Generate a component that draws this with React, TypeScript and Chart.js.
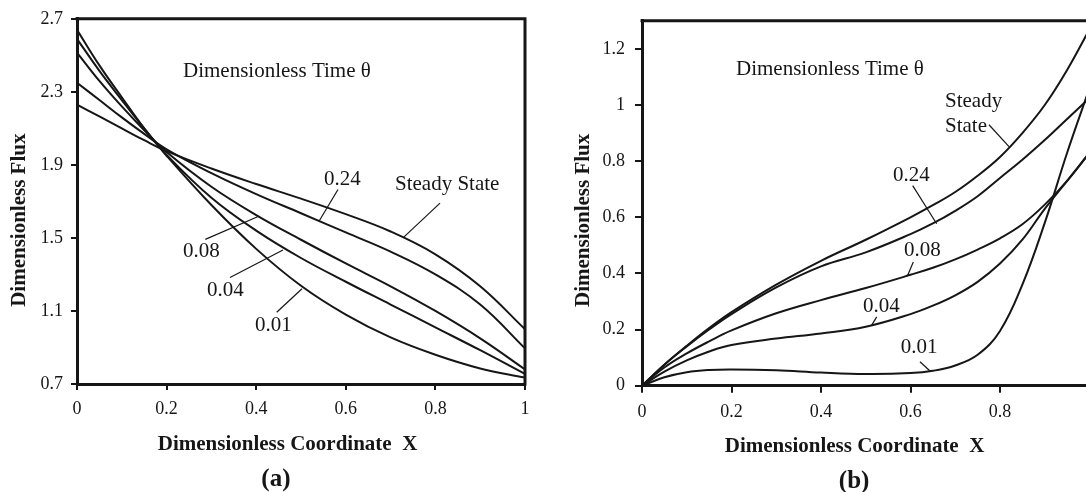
import React, { useEffect, useRef } from "react";
import { Chart, registerables } from "chart.js";

Chart.register(...registerables);

const INK = "#161616";
const SERIF = '"Liberation Serif", "Times New Roman", serif';

// ---------------- Chart (a) data ----------------
const xA = [0, 0.05, 0.1, 0.15, 0.2, 0.3, 0.4, 0.5, 0.6, 0.7, 0.8, 0.9, 1];
const fluxA_001 = [2.64, 2.445, 2.27, 2.1, 1.95, 1.68, 1.44, 1.238, 1.08, 0.955, 0.86, 0.785, 0.735];
const fluxA_004 = [2.59, 2.415, 2.255, 2.1, 1.955, 1.72, 1.54, 1.39, 1.26, 1.135, 1.01, 0.885, 0.755];
const fluxA_008 = [2.515, 2.36, 2.22, 2.09, 1.97, 1.78, 1.625, 1.49, 1.36, 1.235, 1.1, 0.95, 0.78];
const fluxA_024 = [2.35, 2.255, 2.16, 2.07, 1.985, 1.855, 1.74, 1.635, 1.53, 1.425, 1.3, 1.135, 0.895];
const fluxA_ss = [2.23, 2.165, 2.1, 2.035, 1.975, 1.88, 1.795, 1.715, 1.63, 1.535, 1.41, 1.235, 1.0];
const xTicksA = [0, 0.2, 0.4, 0.6, 0.8, 1];
const yTicksA = [0.7, 1.1, 1.5, 1.9, 2.3, 2.7];

// ---------------- Chart (b) data ----------------
const xB = [0, 0.05, 0.1, 0.15, 0.2, 0.3, 0.4, 0.5, 0.6, 0.65, 0.7, 0.75, 0.8, 0.85, 0.9, 0.95, 1];
const fluxB_001 = [0, 0.03, 0.048, 0.056, 0.058, 0.055, 0.047, 0.042, 0.045, 0.053, 0.072, 0.11, 0.195, 0.36, 0.58, 0.83, 1.06];
const fluxB_004 = [0, 0.05, 0.09, 0.122, 0.145, 0.168, 0.186, 0.21, 0.255, 0.285, 0.322, 0.37, 0.435, 0.52, 0.63, 0.73, 0.83];
const fluxB_008 = [0, 0.065, 0.115, 0.158, 0.197, 0.258, 0.305, 0.348, 0.395, 0.42, 0.45, 0.485, 0.525, 0.575, 0.645, 0.73, 0.83];
const fluxB_024 = [0, 0.075, 0.14, 0.2, 0.255, 0.35, 0.425, 0.475, 0.54, 0.578, 0.623, 0.675, 0.74, 0.805, 0.875, 0.95, 1.025];
const fluxB_ss = [0, 0.075, 0.142, 0.205, 0.262, 0.36, 0.445, 0.52, 0.6, 0.643, 0.69, 0.748, 0.815, 0.9, 1.0, 1.125, 1.27];
const xTicksB = [0, 0.2, 0.4, 0.6, 0.8, 1];
const yTicksB = [0, 0.2, 0.4, 0.6, 0.8, 1, 1.2];

const seriesNames = ["0.01", "0.04", "0.08", "0.24", "Steady State"];

// ---------------- annotations (data units) ----------------
const labelsA = [
  { text: "Dimensionless Time θ", x: 0.2366, y: 2.379 },
  { text: "0.24", x: 0.5513, y: 1.7924 },
  { text: "Steady State", x: 0.7098, y: 1.7598 },
  { text: "0.08", x: 0.2366, y: 1.3957 },
  { text: "0.04", x: 0.2902, y: 1.1837 },
  { text: "0.01", x: 0.3973, y: 0.988 },
];
const leadersA = [
  [0.5826, 1.7652, 0.5402, 1.5913],
  [0.8103, 1.6908, 0.7277, 1.5005],
  [0.2864, 1.4918, 0.4056, 1.6185],
  [0.3415, 1.2832, 0.4598, 1.4337],
  [0.4458, 1.0929, 0.5022, 1.2217],
];
const labelsB = [
  { text: "Dimensionless Time θ", x: 0.2101, y: 1.1073 },
  { text: "Steady", x: 0.6771, y: 0.9936 },
  { text: "State", x: 0.6771, y: 0.903 },
  { text: "0.24", x: 0.5609, y: 0.7307 },
  { text: "0.08", x: 0.5855, y: 0.4607 },
  { text: "0.04", x: 0.4939, y: 0.2636 },
  { text: "0.01", x: 0.5781, y: 0.1162 },
];
const leadersB = [
  [0.7754, 0.9297, 0.8201, 0.8515],
  [0.6049, 0.713, 0.6585, 0.5769],
  [0.6063, 0.4405, 0.5928, 0.3897],
  [0.5245, 0.2451, 0.5133, 0.2156],
  [0.6212, 0.0853, 0.6436, 0.0522],
];

const fmt = (v: number) => String(Math.round(v * 10) / 10);

type Spec = {
  xs: number[];
  series: number[][];
  xTicks: number[];
  yTicks: number[];
  xMin: number;
  xMax: number;
  yMin: number;
  yMax: number;
  labels: { text: string; x: number; y: number }[];
  leaders: number[][];
  panel: string;
  panelX: number;
  xTitleX: number;
  yTitleOffset: number;
  yTitleY: number;
  yAxisWidth: number;
  xAxisHeight: number;
  padding: { left: number; right: number; top: number; bottom: number };
  tickLen: number;
  yPad: number;
  xPad: number;
};

function overlayPlugin(spec: Spec) {
  return {
    id: "overlay",
    afterDraw(chart: any) {
      const { ctx, chartArea: ca } = chart;
      const sx = chart.scales.x;
      const sy = chart.scales.y;
      ctx.save();
      // top and right frame
      ctx.strokeStyle = INK;
      ctx.lineWidth = 3;
      ctx.beginPath();
      ctx.moveTo(ca.left - 1.5, ca.top);
      ctx.lineTo(ca.right, ca.top);
      ctx.lineTo(ca.right, ca.bottom + 1.5);
      ctx.stroke();
      // leader lines
      ctx.lineWidth = 1.2;
      for (const [x1, y1, x2, y2] of spec.leaders) {
        ctx.beginPath();
        ctx.moveTo(sx.getPixelForValue(x1), sy.getPixelForValue(y1));
        ctx.lineTo(sx.getPixelForValue(x2), sy.getPixelForValue(y2));
        ctx.stroke();
      }
      // in-plot labels
      ctx.fillStyle = INK;
      ctx.font = `21px ${SERIF}`;
      ctx.textAlign = "left";
      ctx.textBaseline = "alphabetic";
      for (const l of spec.labels) {
        ctx.fillText(l.text, sx.getPixelForValue(l.x), sy.getPixelForValue(l.y));
      }
      // x axis title
      ctx.font = `bold 21px ${SERIF}`;
      ctx.textAlign = "center";
      ctx.fillText("Dimensionless Coordinate  X", sx.getPixelForValue(spec.xTitleX), ca.bottom + 66);
      // panel label
      ctx.font = `bold 25px ${SERIF}`;
      ctx.fillText(spec.panel, sx.getPixelForValue(spec.panelX), ca.bottom + 102);
      // y axis title
      ctx.translate(ca.left - spec.yTitleOffset, sy.getPixelForValue(spec.yTitleY));
      ctx.rotate(-Math.PI / 2);
      ctx.font = `bold 21px ${SERIF}`;
      ctx.textAlign = "center";
      ctx.textBaseline = "middle";
      ctx.fillText("Dimensionless Flux", 0, 0);
      ctx.restore();
    },
  };
}

function makeConfig(spec: Spec): any {
  const tickFont = { family: SERIF, size: 18 };
  return {
    type: "line",
    data: {
      datasets: spec.series.map((vals, k) => ({
        label: seriesNames[k],
        data: spec.xs.map((x, i) => ({ x, y: vals[i] })),
        borderColor: INK,
        borderWidth: 2,
        pointRadius: 0,
        fill: false,
        tension: 0.4,
      })),
    },
    options: {
      animation: false,
      responsive: false,
      maintainAspectRatio: false,
      layout: { padding: spec.padding },
      plugins: { legend: { display: false }, tooltip: { enabled: false } },
      scales: {
        x: {
          type: "linear",
          min: spec.xMin,
          max: spec.xMax,
          afterBuildTicks: (s: any) => {
            s.ticks = spec.xTicks.map((v) => ({ value: v }));
          },
          afterFit: (s: any) => {
            s.height = spec.xAxisHeight;
          },
          grid: {
            display: true,
            drawOnChartArea: false,
            drawTicks: true,
            tickLength: spec.tickLen,
            color: INK,
            lineWidth: 2,
          },
          border: { display: true, color: INK, width: 3 },
          ticks: {
            font: tickFont,
            color: INK,
            padding: spec.xPad,
            maxRotation: 0,
            autoSkip: false,
            callback: (v: number) => fmt(v),
          },
        },
        y: {
          type: "linear",
          min: spec.yMin,
          max: spec.yMax,
          afterBuildTicks: (s: any) => {
            s.ticks = spec.yTicks.map((v) => ({ value: v }));
          },
          afterFit: (s: any) => {
            s.width = spec.yAxisWidth;
          },
          grid: {
            display: true,
            drawOnChartArea: false,
            drawTicks: true,
            tickLength: spec.tickLen,
            color: INK,
            lineWidth: 2,
          },
          border: { display: true, color: INK, width: 3 },
          ticks: {
            font: tickFont,
            color: INK,
            padding: spec.yPad,
            autoSkip: false,
            callback: (v: number) => fmt(v),
          },
        },
      },
    },
    plugins: [overlayPlugin(spec)],
  };
}

const specA: Spec = {
  xs: xA,
  series: [fluxA_001, fluxA_004, fluxA_008, fluxA_024, fluxA_ss],
  xTicks: xTicksA,
  yTicks: yTicksA,
  xMin: 0,
  xMax: 1,
  yMin: 0.7,
  yMax: 2.7,
  labels: labelsA,
  leaders: leadersA,
  panel: "(a)",
  panelX: 0.444,
  xTitleX: 0.47,
  yTitleOffset: 57,
  yTitleY: 1.597,
  yAxisWidth: 77,
  xAxisHeight: 108,
  padding: { left: 0, right: 20, top: 16, bottom: 0 },
  tickLen: 6,
  yPad: 8,
  xPad: 8,
};

const specB: Spec = {
  xs: xB,
  series: [fluxB_001, fluxB_004, fluxB_008, fluxB_024, fluxB_ss],
  xTicks: xTicksB,
  yTicks: yTicksB,
  xMin: 0,
  xMax: 1,
  yMin: 0,
  yMax: 1.3,
  labels: labelsB,
  leaders: leadersB,
  panel: "(b)",
  panelX: 0.474,
  xTitleX: 0.475,
  yTitleOffset: 58,
  yTitleY: 0.589,
  yAxisWidth: 97,
  xAxisHeight: 106.3,
  padding: { left: 0, right: 15.5, top: 19.75, bottom: 0 },
  tickLen: 7,
  yPad: 10,
  xPad: 9,
};

function Panel({ spec, left, width }: { spec: Spec; left: number; width: number }) {
  const ref = useRef<HTMLCanvasElement>(null);
  useEffect(() => {
    if (!ref.current) return;
    const chart = new Chart(ref.current, makeConfig(spec));
    return () => chart.destroy();
  }, [spec]);
  return (
    <canvas
      ref={ref}
      width={width}
      height={492}
      style={{ position: "absolute", left, top: 0, width, height: 492 }}
    />
  );
}

export default function App() {
  return (
    <div
      style={{
        position: "fixed",
        left: 0,
        top: 0,
        width: 1086,
        height: 492,
        overflow: "hidden",
        background: "#ffffff",
      }}
    >
      <Panel spec={specA} left={0} width={545} />
      <Panel spec={specB} left={545} width={560} />
    </div>
  );
}
